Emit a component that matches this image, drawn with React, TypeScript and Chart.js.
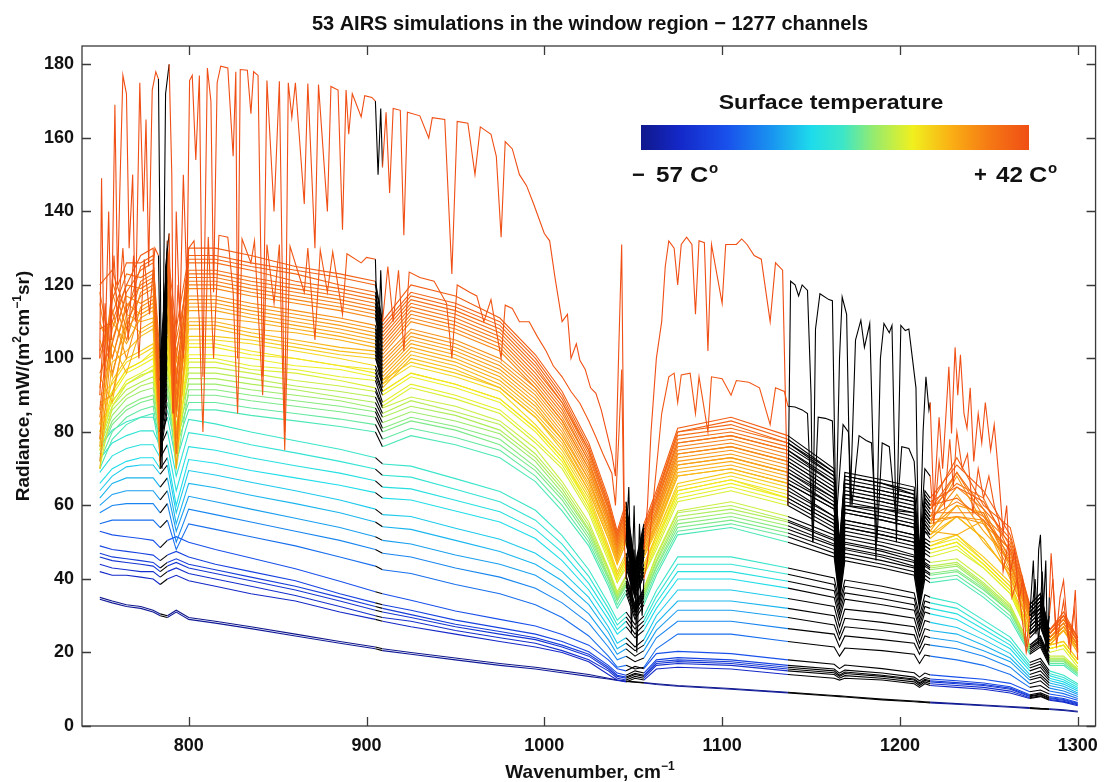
import React, { useEffect, useRef } from "react";
import { Chart, registerables } from "chart.js";

Chart.register(...registerables);

const TITLE = "53 AIRS simulations in the window region \u2212 1277 channels";
const xTicks = [800, 900, 1000, 1100, 1200, 1300];
const yTicks = [0, 20, 40, 60, 80, 100, 120, 140, 160, 180];
const blackRanges = [[783, 789], [905, 909], [1046, 1056], [1137, 1217], [1273, 1284]];

// shared wavenumber grid for the 51 smoother spectra
const wavenumbers = [750, 757, 765, 773, 780, 784, 788, 793, 800, 815, 835, 860, 885, 905, 909, 925, 950, 975, 995, 1010, 1025, 1036, 1041, 1046, 1051, 1056, 1063, 1075, 1105, 1137, 1163, 1166, 1169, 1190, 1208, 1211, 1214, 1217, 1232, 1247, 1262, 1273, 1279, 1284, 1292, 1300];

// surface temperature (deg C) of each of the 53 profiles, coldest first
const surfaceTemps = [-57, -55, -47, -45, -43, -41, -39, -35, -30, -26, -22, -19, -16, -13, -11, -8, -6, -4, -2, 0, 1, 3, 5, 6, 8, 10, 11, 12, 13, 14, 16, 18, 20, 21, 22, 23, 24, 25, 26, 27, 28, 29, 30, 31, 32, 33, 34, 35, 36, 37, 38, 40, 42];

const coldProfiles = [
  [35,34,33,32.5,31.5,30.5,30,31.5,29.5,28.5,27,25,23,21.5,21,20,18.5,17,16,15,14,13,12.5,12.2,12,11.8,11.5,11,10.2,9.2,8.3,8.2,8.1,7.3,6.8,6.7,6.6,6.5,6.1,5.7,5.3,5,4.8,4.7,4.4,4],
  [34.5,33.5,32.5,32,31,30,29.5,31,29,28,26.5,24.5,22.5,21,20.5,19.5,18,16.5,15.5,14.5,13.5,12.8,12.4,12.1,11.9,11.7,11.3,10.8,10,9,8.1,8,7.9,7.1,6.6,6.5,6.4,6.3,5.9,5.5,5.1,4.8,4.6,4.5,4.2,3.8],
];

const blueProfiles = [
  [42,41,41,40.5,40,38.5,40,41,39.5,38,36,34,31,29,28.5,27,25,23,21.5,20,17.5,14,12.5,12,13,12.5,15.5,16,15.5,14,13,12.5,13,12.5,11.5,10.5,11.5,11,10.5,10,9,7.5,8,7,6.5,5.5],
  [44,43,42.5,42,42,40.5,42,43,41.5,40,38,35.5,32.5,30,29.5,28.5,26,24,22.5,20.5,18,15,13,12.5,13.5,13,16.5,17,16.5,15,14,13,13.7,13,12,11,12,11.5,11,10.5,9.5,7.7,8.2,7.2,6.7,5.8],
  [46,45,44.5,44,43.5,42,43.5,44.5,43,41.5,39.5,37,34,31.5,31,29.5,27,25,23.5,21.5,19,15.5,13.5,13,14,13.5,17,17.5,17,15.5,14.5,13.5,14.3,13.5,12.5,11.5,12.4,12,11.5,11,10,8,8.5,7.5,7,6],
  [47,46,45.5,45,44.5,43,44.5,45.5,44,42.5,40.5,38,35,32.5,32,30.3,27.7,25.7,24,22,19.5,16,13.8,13.3,14.3,13.8,17.5,18,17.5,16,15,13.8,14.7,13.8,12.8,11.8,12.7,12.3,11.8,11.3,10.3,8.2,8.7,7.7,7.2,6.2],
  [49,48,47.5,47,46.5,45,46.5,47.5,46,44,42,39.5,36,33.5,33,31.5,28.8,26.7,25,23,20.2,16.5,14.4,13.8,15,14.4,18,18.6,18,16.5,15.5,14.4,15.2,14.4,13.3,12.3,13.2,12.8,12.3,11.7,10.7,8.5,9,8,7.5,6.4],
  [53,52,51.5,51,50.5,48.5,50.5,51.5,50,48,45.7,42.8,39.4,36.5,36,34.2,31.3,29,27.2,24.9,22,18,15.6,15,16.2,15.6,19.7,20.3,19.7,18,16.8,15.6,16.6,15.6,14.5,13.3,14.4,13.9,13.3,12.7,11.6,9.3,9.8,8.7,8.1,7],
];

const cyanProfiles = [
  [55,56,56,56,56,54,56,48,55,53.5,51.5,49,46,43.5,42.5,41.5,38.5,36,33,29.5,24.5,19,16,16.5,15.5,16,21,25,25,23,21.5,19,21.2,20.5,19.5,17,19.3,19,18,16.5,14,10.5,11,9.5,8.8,7.5],
  [58,60,60.5,60.5,60.5,58,60.5,50,59,57.5,55.5,53,50.5,48,47,46,43,40.5,37.5,33.5,28,21.5,18,19,17.5,18.5,24,28.5,28.5,26.5,25,21.5,24.5,23.5,22.5,19.5,22.3,22,21,19,16,11.5,12.3,10.3,9.5,8],
  [60,63,64,64,64,61.5,64,53,62.5,61,59,56.5,54,51.5,50.5,49.5,46.5,44,41,36.5,30.5,23.5,19.5,21,19,20.5,26,31.5,31.5,29.5,27.5,23.5,27,26,24.8,21,24.5,24,23,20.5,17.5,12.5,13.3,11,10.2,8.6],
  [62,66,67.5,67.5,67.5,65,67.5,55,66,64.8,62.8,60.5,58,55.5,54.2,53.5,50.5,47.5,44,39.5,33,25.5,21,22.5,20.5,22,28,34,34,32,30,25,29.3,28.2,27,22.5,26.5,26,25,22,18.5,13.2,14,11.7,10.8,9],
  [64,68,70.5,71,71,68.5,71,58,69.5,68.3,66.3,64,61.5,59,57.5,57,53.8,50.8,47,42,35,27,22.5,24,21.5,23.5,30,37,37,34.7,32.5,27,31.8,30.7,29.3,24.3,28.7,28.2,26.8,23.5,19.7,14,15,12.4,11.4,9.5],
  [66,70,72,73,73,70,73,60,72.5,71.5,69.5,67.5,65.5,63.5,62,61.5,58.5,55.5,51,45,37,29,25,27,24,26,32,40,40,37.5,35,29,34.5,33,31.5,26,31,30.5,29,25,21,15,16,13,12,10],
  [69,73.5,75.5,76.5,76.5,73,76.5,64,76,75,73,70.8,68.8,66.7,65,64.5,61.4,58.3,53.5,47.3,38.8,30.5,26.2,28.5,25,27.5,33.6,42,42,39.4,36.8,30.5,36.2,34.6,33,27.3,32.5,32,30.5,26.3,22,15.8,16.8,13.7,12.6,10.5],
  [72.6,77,79,80.3,80.3,76,80.3,68,79.8,78.7,76.5,74.3,72,69.9,68.2,67.7,64.4,61,56,49.5,40.7,32,27.5,29.7,26.4,28.6,35.2,44,44,41.3,38.5,32,38,36.3,34.7,28.6,34,33.5,32,27.5,23,16.5,17.6,14.3,13.2,11],
  [76,80.5,82.8,84,84,79,84,72,83.4,82.2,80,77.6,75.3,73,71.3,70.7,67.3,63.8,58.7,51.8,42.5,33.4,28.8,31,27.6,29.9,36.8,46,46,43,40.3,33.4,39.7,38,36.2,30,35.7,35,33.4,28.8,24.2,17.3,18.4,15,13.8,11.5],
];

const greenProfiles = [
  [70,78,82,84,85,74,86,76,86,86,84.5,83,81.5,80,76,79,76.5,73,66.5,58.5,49,38,32,36,29,33,41,52,54,50,46,34,45,43,41,32,40,39,40,35,29,19.5,21.5,16.5,16.5,13.5],
  [72,80,84,86,87,76,88,78,88,88,86.5,85,83.5,82,78,81,78.5,75,68,60,50,39,33,37,30,34,42,53,55,51.5,47,35,46,44,42,33,41,40,41,36,30,20,22,17,17,14],
  [74,82,86,88,89,78,90,80,90,90,88.5,87,85.5,84,80,83,80.5,76.5,69.5,61.5,51,40,34,38,31,35,43,54,56,52.5,48,36,47,45,43,34,42,41,42,37,31,20.5,22.5,17.5,17.5,14.3],
  [75,83,87,89,90,79,91.5,70,91.5,91.5,90,88.5,87,85.5,81,84,81.5,78,70.5,62.5,52,40.5,34.5,38.5,31,35.5,43.5,55,57,53.5,49,36.5,48,46,43.5,34.5,42.5,41.5,42.5,37.5,31,21,23,17.7,17.7,14.6],
  [76,84.5,89,91,92,80,93,82,93,93,91.5,90,88.5,86.5,82.5,85.5,83,79.5,72,63.5,53,41,35,39,31.5,36,44.5,56,58,54.5,49.5,37,48.5,46.5,44.5,35,43.5,42.5,43.5,38,31.5,21,23.5,18,18,15],
  [77,86,90,92.5,93.5,81,94.5,74,94.5,94.5,93,91.5,89.5,88,84,87,84.5,80.5,73,64.5,53.5,42,35.5,39.5,32,36.5,45,57,59,55.5,50.5,37.5,49.5,47.5,45,35.5,44,43,44,38.5,32,21.5,23.5,18.3,18.3,15],
  [78.5,87,91.5,93.5,95,83,96,85,96,96,94.5,92.5,91,89.5,85,88.5,85.5,82,74,65.5,54.5,42.5,36,40.5,32.5,37,46,58,60,56,51,38,50,48,46,36,44.5,43.5,44.5,39,32.5,22,24,18.5,18.5,15.3],
  [80,88.5,93,95.5,96.5,84,97.5,77,97.5,97.5,96,94,92.5,91,86.5,89.5,87,83,75.5,66.5,55.5,43,36.5,41,33,37.5,46.5,58.5,61,57,52,39,51,49,46.5,36.5,45.5,44.5,45.5,40,33,22,24.5,19,19,15.5],
];

const yellowProfiles = [
  [70,87,93,95,97,78,99,82,99,99,97,96,94,92,87,92,89,85,77,70,58,45,39,43,35,41,48,61,64,60,53,39,52,50,48,37,47,46,48,43,36,24,27,20,21,16],
  [82,88,94,96,98,80,101,75,100,100,98,97,95,94,88,93,90,86,78,71,59,46,39,44,35,41,49,62,65,61,54,39,53,51,49,37,48,47,49,43,36,25,27,21,22,17],
  [75,90,96,98,100,77,102,88,101,101,100,98,97,95,90,95,92,88,80,72,60,47,40,45,36,42,50,63,66,62,55,40,54,52,50,38,49,48,50,44,37,25,28,21,22,17],
  [86,91,97,99,101,82,104,70,103,103,101,100,98,96,91,96,93,89,81,73,60,47,40,45,36,42,50,64,67,62,55,40,54,52,50,38,49,48,50,44,37,25,28,21,22,17],
  [78,91,97,99,102,79,105,85,104,104,102,100,98,97,91,96,93,89,81,73,61,48,41,46,37,43,51,64,67,63,56,41,55,53,51,39,50,49,51,45,38,25,28,21,22,17],
  [90,93,99,101,103,84,106,78,105,105,104,102,100,98,93,98,95,91,82,74,62,48,41,46,37,43,52,65,68,64,57,41,56,54,52,39,50,49,52,45,38,26,29,22,23,18],
  [80,94,100,102,104,81,108,90,106,106,105,103,101,100,94,99,96,92,84,75,63,49,42,47,38,44,52,66,69,65,57,42,56,54,52,40,51,50,52,46,39,26,29,22,23,18],
];

const warmProfiles = [
  [70,99,102,106,108,81,110,80,108,108,106,104,102,101,92,100,97,92,84,76,64,51,44,50,37,46,53,68,70,66,59,41,58,56,54,38,53,51,57,51,41,27,30,22,26,20],
  [95,88,110,107,109,72,111,92,109,109,107,105,103,102,93,101,98,93,85,77,64,51,44,50,37,46,54,68,70,66,59,41,58,56,54,38,53,52,57,51,41,27,30,22,26,20],
  [82,104,96,108,110,88,112,75,110,110,108,107,105,103,94,102,99,94,86,78,65,52,45,51,37,47,54,69,71,67,60,42,59,57,55,39,54,52,60,50,42,28,31,22,26,21],
  [105,95,112,110,111,76,113,99,111,111,110,108,106,104,95,103,100,95,87,78,66,53,45,52,37,47,55,70,72,68,60,42,59,57,55,40,55,53,52,56,40,28,31,23,26,21],
  [76,110,104,111,113,92,115,85,113,113,111,109,107,105,96,104,101,96,88,79,67,53,46,53,38,48,55,71,73,69,61,43,60,58,56,40,55,53,63,53,45,29,32,23,27,21],
  [110,100,115,112,114,70,116,70,114,114,112,110,108,106,97,105,102,97,89,80,67,54,46,53,38,48,56,71,73,69,62,43,60,59,57,40,56,54,60,58,43,29,32,23,27,21],
  [88,90,108,113,115,85,117,95,115,115,113,111,109,107,98,106,103,98,90,81,68,55,47,54,39,49,57,72,74,70,62,44,61,59,58,41,57,55,57,55,44,29,32,23,27,21],
  [100,113,100,114,116,95,118,88,116,116,114,112,110,108,99,107,104,99,91,82,69,55,47,54,39,49,57,73,75,71,63,44,62,60,58,41,57,55,68,55,48,30,32,24,27,22],
  [72,105,117,115,117,78,119,102,117,117,115,113,111,109,100,108,105,100,92,83,70,56,48,55,40,50,58,74,76,72,64,45,63,61,59,42,58,56,57,56,42,30,33,24,28,22],
  [115,96,110,117,119,90,121,78,119,119,117,115,113,111,101,110,107,102,92,83,70,56,48,55,40,50,58,74,76,72,64,45,63,61,59,42,58,56,65,59,45,30,33,24,28,22],
  [92,118,105,118,120,74,122,96,120,120,118,116,114,112,102,111,108,103,93,84,71,57,49,56,41,51,59,75,77,73,65,46,64,62,60,43,59,57,61,57,46,30,33,24,28,22],
  [84,108,120,119,121,98,123,84,121,121,119,117,115,113,103,112,109,104,94,85,72,57,49,56,41,51,59,76,78,74,66,46,65,63,61,43,59,57,69,57,50,31,34,25,29,23],
  [118,100,114,120,122,82,124,105,122,122,120,118,116,114,104,113,110,105,95,86,72,58,50,57,41,52,60,77,79,75,66,47,65,63,61,43,60,58,58,58,44,31,34,25,29,23],
  [78,121,108,121,123,88,125,90,123,123,121,119,117,115,105,114,111,106,96,87,73,59,50,57,42,52,61,77,79,75,67,47,66,64,62,44,61,59,66,62,47,31,34,25,29,23],
  [102,112,123,122,124,72,127,74,124,124,122,120,118,116,106,115,112,107,97,88,74,59,51,58,42,53,61,78,80,76,68,47,66,64,62,44,61,59,69,59,51,32,35,25,30,23],
  [96,104,118,124,126,100,128,100,126,126,124,121,119,117,107,116,113,108,98,88,75,60,51,59,43,53,62,79,81,77,68,48,67,65,63,45,62,60,62,56,48,32,35,26,30,23],
  [120,124,112,125,127,86,129,86,127,127,125,123,120,118,108,117,114,109,99,89,75,60,52,59,43,54,62,80,82,77,69,48,68,66,63,45,62,60,73,60,54,32,35,26,30,24],
  [86,116,126,126,128,94,130,108,128,128,126,124,122,120,109,118,115,110,100,90,76,61,52,60,43,54,63,80,83,78,69,49,68,66,64,46,63,61,65,61,49,33,36,26,30,24],
  [108,110,120,128,130,80,132,93,130,130,128,125,123,121,110,120,117,111,101,91,77,62,53,61,44,55,64,81,84,79,70,50,69,67,65,46,64,62,71,64,52,33,36,26,31,24],
];

// second-warmest profile: [wavenumber, radiance]
const secondProfile = [
  [750,90],[753,115],[755,100],[758,128],[760,110],[763,130],[766,105],[769,128],[772,100],[775,127],[778,112],[781,130],[783,128],[785,70],[787,125],[789,134],[791,85],[794,120],[797,100],[800,130],[803,132],[806,110],[808,80],[811,133],[814,100],[817,133.5],[822,133],[825,118],[827.5,85],[830,132.5],[835,126],[837,132],[841.6,90],[844,131],[848,115],[851,131],[854,75],[857,130.5],[865,118],[867,130],[871,105],[874,129.5],[878,118],[881,129],[886.5,112],[889,128.5],[897,126],[900,127.5],[905,127],[906.5,100],[908,124],[909,110],[912,125],[915,110],[918,124],[921,102],[924,123.5],[930,122],[938,121],[945,115],[948,100],[951,120],[958,118],[962,117],[966,110],[970,116],[975.7,100],[978,114.5],[982,113.6],[986,110],[991.5,110],[996,106],[1001,102],[1005,98],[1010,95],[1015,91],[1020,87.8],[1025,83],[1029,78.6],[1033,74],[1038,68.7],[1040,60],[1042,80],[1043.5,97],[1045,50],[1046,40],[1047.5,55],[1049,25],[1050.5,48],[1052,20],[1053.5,42],[1055,30],[1056,40],[1058,45],[1060,55],[1063,70],[1066,85],[1070,95],[1073,96],[1075,88],[1077,95.5],[1082,96],[1085,85],[1087,95],[1092,80],[1094,95],[1100,94.5],[1105,90],[1108,94],[1115,93.5],[1121,92],[1127,82],[1130,92],[1135,91],[1137,87],[1141,86.8],[1145,86],[1148,85],[1151,50],[1154,84],[1158,83.7],[1162,83],[1164,55],[1168,82],[1171,80],[1173,60],[1177,79],[1181,77.7],[1184,77],[1187,50],[1190,77],[1194,76],[1198,55],[1201,76],[1205,75.5],[1208,72],[1211,48],[1214,70],[1217,68],[1219,55],[1222,72],[1225,60],[1228,78],[1230,65],[1232,80],[1235,70],[1238,74],[1241,58],[1244,70],[1247,62],[1250,68],[1253,60],[1256,55],[1258,42],[1261,50],[1263,35],[1266,40],[1269,28],[1271,20],[1273,25],[1276,40],[1278,22],[1280,42],[1282,20],[1284,30],[1286,40],[1288,22],[1292,34],[1295,22],[1298,32],[1300,18],
];

// warmest profile (+42 C): [wavenumber, radiance]
const topProfile = [
  [750,100],[751,149],[752.5,95],[755,140],[756.5,105],[758.5,169],[760,120],[761.5,150],[763,177],[765,172],[766.5,130],[768.5,150],[770,110],[772.5,175],[774.5,140],[776,165],[777.5,125],[779.5,173],[781.5,178],[783,176],[785,75],[787,172],[789,180],[790.5,150],[791.5,85],[793,140],[795,110],[797,150],[799,120],[800.5,175.6],[802,177],[804,154],[806,177],[808,95],[810.5,179],[812.5,170],[814,118],[816,175],[818,179.5],[822,179],[825,155],[826.5,178],[827.5,100],[829,178.6],[833,178.4],[835,166.6],[836.5,178],[839,177],[841.6,95],[844,175.6],[848,140],[851,175.4],[854,80],[856,175],[858,165.6],[860,175],[865,142],[867,174.8],[871,130],[873,174.5],[878,140],[880,174],[884,173],[886.5,135],[888.5,173],[890,161],[892,172],[897,165.7],[899,171.5],[903,171],[905,170],[906.5,150],[908,168],[909,152],[911,167],[913,145],[915,168],[919,167.5],[921,133.5],[923,167],[930,166],[935,160],[937,165.5],[944,165],[948,123],[951,164.5],[957,164],[961,150],[964,163],[970,161],[973,155],[975.7,133],[978,159],[982,157],[986,150],[990,147],[994,142],[997,138],[1000,134],[1003,132],[1006,122],[1010,110],[1013,112],[1015,100],[1018,104],[1020,99.5],[1023,97],[1026,92],[1029,90.5],[1032,86],[1035,80],[1038,74],[1040,68],[1042,105],[1043.5,131],[1045,55],[1046,50],[1047.5,65],[1049,35],[1050.5,60],[1052,28],[1053.5,55],[1055,40],[1056,48],[1058,60],[1060,80],[1063,100],[1066,110],[1068,125],[1070,132],[1073,130],[1075,120],[1077,131],[1080,133],[1083,131],[1085,112],[1087,132],[1090,131.5],[1092,102],[1094,131],[1100,115],[1102,131],[1108,131],[1111,132.5],[1114,131],[1118,128],[1122,127],[1127,110],[1130,126],[1134,124],[1136,80],[1137,60],[1138.5,121],[1141,120],[1143,117],[1145,120],[1148,118.5],[1150,90],[1151,50],[1152.5,108],[1155,117.6],[1160,116],[1162,115.7],[1164,55],[1166,100],[1167.5,116.7],[1170,112],[1172,60],[1175,105],[1178,110.4],[1180,103],[1183,109.5],[1186.5,45],[1189,100],[1191,109.5],[1194,107],[1195.5,109],[1198,50],[1200.5,109],[1203,107.6],[1205,108],[1207,100],[1209,92],[1210.7,40],[1213,80],[1214.6,95],[1216.3,86],[1217,88],[1219,60],[1222,84],[1224,70],[1227.5,97.7],[1229,79.6],[1231,103],[1232.5,90],[1234,101],[1236,85],[1237.7,81],[1239.5,92],[1241.5,72],[1244,85],[1246,77],[1248,88],[1251,75],[1253,82],[1255.6,67.7],[1258,52.4],[1260,60],[1262,41.5],[1264.5,48],[1267,34],[1269,40],[1271,21.5],[1273,30],[1275,45],[1276.5,25],[1278,48],[1279,52],[1280.5,30],[1282,45],[1283,20],[1284,35],[1285,47],[1288,25],[1290,35],[1292,39.6],[1294,28],[1296,20.6],[1298.6,37],[1300,20],
];

const FONT = '"Liberation Sans", Arial, Helvetica, sans-serif';
const T_MIN = -57;
const T_MAX = 42;

const colorStops: [number, number[]][] = [
  [0.0, [16, 24, 140]],
  [0.1, [20, 40, 200]],
  [0.22, [25, 80, 235]],
  [0.34, [25, 150, 240]],
  [0.44, [30, 220, 235]],
  [0.52, [60, 230, 200]],
  [0.6, [150, 235, 110]],
  [0.7, [240, 240, 30]],
  [0.8, [250, 175, 20]],
  [0.9, [245, 120, 20]],
  [1.0, [240, 78, 20]],
];

function mapColor(t: number): string {
  const tt = Math.max(0, Math.min(1, t));
  for (let i = 1; i < colorStops.length; i++) {
    const [t1, c1] = colorStops[i];
    const [t0, c0] = colorStops[i - 1];
    if (tt <= t1) {
      const f = (tt - t0) / (t1 - t0);
      const c = c0.map((v, k) => Math.round(v + (c1[k] - v) * f));
      return `rgb(${c[0]},${c[1]},${c[2]})`;
    }
  }
  const c = colorStops[colorStops.length - 1][1];
  return `rgb(${c[0]},${c[1]},${c[2]})`;
}

const tempColor = (temp: number) => mapColor((temp - T_MIN) / (T_MAX - T_MIN));
const inBlack = (a: number, b: number) => blackRanges.some(([lo, hi]) => a >= lo && b <= hi);

function makeDataset(points: { x: number; y: number }[], temp: number) {
  const color = tempColor(temp);
  return {
    data: points,
    borderColor: color,
    borderWidth: 1.1,
    pointRadius: 0,
    tension: 0,
    fill: false,
    segment: {
      borderColor: (ctx: any) => (inBlack(ctx.p0.parsed.x, ctx.p1.parsed.x) ? "#000" : color),
    },
  };
}

type Part = [string, boolean?];

function drawRich(ctx: CanvasRenderingContext2D, parts: Part[], x: number, y: number, size: number) {
  const normal = `bold ${size}px ${FONT}`;
  const sup = `bold ${Math.round(size * 0.65)}px ${FONT}`;
  let total = 0;
  const widths = parts.map(([t, s]) => {
    ctx.font = s ? sup : normal;
    const w = ctx.measureText(t).width;
    total += w;
    return w;
  });
  let cx = x - total / 2;
  ctx.textAlign = "left";
  ctx.textBaseline = "alphabetic";
  parts.forEach(([t, s], i) => {
    ctx.font = s ? sup : normal;
    ctx.fillText(t, cx, s ? y - size * 0.42 : y);
    cx += widths[i];
  });
}

const decorPlugin = {
  id: "decor",
  afterDraw(chart: any) {
    const { ctx, chartArea: a, scales } = chart;
    ctx.save();
    ctx.strokeStyle = "#3a3a3a";
    ctx.lineWidth = 1.3;
    ctx.strokeRect(a.left, a.top, a.right - a.left, a.bottom - a.top);
    ctx.beginPath();
    const tl = 9;
    xTicks.forEach((v) => {
      const x = Math.round(scales.x.getPixelForValue(v)) + 0.5;
      ctx.moveTo(x, a.bottom);
      ctx.lineTo(x, a.bottom - tl);
      ctx.moveTo(x, a.top);
      ctx.lineTo(x, a.top + tl);
    });
    yTicks.forEach((v) => {
      const y = Math.round(scales.y.getPixelForValue(v)) + 0.5;
      ctx.moveTo(a.left, y);
      ctx.lineTo(a.left + tl, y);
      ctx.moveTo(a.right, y);
      ctx.lineTo(a.right - tl, y);
    });
    ctx.stroke();

    ctx.fillStyle = "#111";
    // title
    ctx.font = `bold 20px ${FONT}`;
    ctx.textAlign = "center";
    ctx.textBaseline = "alphabetic";
    ctx.fillText(TITLE, 590, 30);

    // x axis label
    drawRich(ctx, [["Wavenumber, cm"], ["\u22121", true]], 590, 778, 19);

    // y axis label
    ctx.save();
    ctx.translate(29, 386);
    ctx.rotate(-Math.PI / 2);
    drawRich(ctx, [["Radiance, mW/(m"], ["2", true], ["cm"], ["\u22121", true], ["sr)"]], 0, 0, 19);
    ctx.restore();

    // colour bar legend
    const bx0 = 641, bx1 = 1029, by0 = 125, by1 = 150;
    const grad = ctx.createLinearGradient(bx0, 0, bx1, 0);
    colorStops.forEach(([t, c]) => grad.addColorStop(t, `rgb(${c[0]},${c[1]},${c[2]})`));
    ctx.fillStyle = grad;
    ctx.fillRect(bx0, by0, bx1 - bx0, by1 - by0);

    ctx.fillStyle = "#111";
    const scaledText = (t: string, x: number, y: number, size: number, align: CanvasTextAlign, sx: number) => {
      ctx.save();
      ctx.translate(x, y);
      ctx.scale(sx, 1);
      ctx.font = `bold ${size}px ${FONT}`;
      ctx.textAlign = align;
      ctx.textBaseline = "alphabetic";
      ctx.fillText(t, 0, 0);
      ctx.restore();
    };
    scaledText("Surface temperature", 831, 109, 21, "center", 1.1);
    scaledText("\u2212", 632, 182, 22, "left", 1.0);
    scaledText("57", 656, 182, 22, "left", 1.1);
    scaledText("C", 690, 182, 22, "left", 1.15);
    scaledText("o", 709, 173, 15, "left", 1.0);
    scaledText("+", 974, 182, 22, "left", 1.0);
    scaledText("42", 996, 182, 22, "left", 1.1);
    scaledText("C", 1029, 182, 22, "left", 1.15);
    scaledText("o", 1048, 173, 15, "left", 1.0);
    ctx.restore();
  },
};

export default function App() {
  const canvasRef = useRef<HTMLCanvasElement | null>(null);

  useEffect(() => {
    if (!canvasRef.current) return;
    const coarseRows = [...coldProfiles, ...blueProfiles, ...cyanProfiles, ...greenProfiles, ...yellowProfiles, ...warmProfiles];
    const datasets: any[] = coarseRows.map((row, i) =>
      makeDataset(wavenumbers.map((x, j) => ({ x, y: row[j] })), surfaceTemps[i])
    );
    datasets.push(makeDataset(secondProfile.map(([x, y]) => ({ x, y })), surfaceTemps[51]));
    datasets.push(makeDataset(topProfile.map(([x, y]) => ({ x, y })), surfaceTemps[52]));
    // lower index is drawn on top in Chart.js: put the warmest first
    datasets.reverse();

    const tickFont = { family: FONT, size: 18, weight: "bold" as const };
    const chart = new Chart(canvasRef.current, {
      type: "line",
      data: { datasets },
      options: {
        animation: false,
        responsive: true,
        maintainAspectRatio: false,
        events: [],
        layout: { padding: { top: 46, right: 11, left: 0, bottom: 0 } },
        plugins: { legend: { display: false }, tooltip: { enabled: false }, title: { display: false } },
        scales: {
          x: {
            type: "linear",
            min: 740,
            max: 1310,
            grid: { display: false, drawTicks: false },
            border: { display: false },
            afterBuildTicks: (s: any) => {
              s.ticks = xTicks.map((v) => ({ value: v }));
            },
            afterFit: (s: any) => {
              s.height = 56;
            },
            ticks: {
              font: tickFont,
              color: "#111",
              padding: 9,
              maxRotation: 0,
              autoSkip: false,
              callback: (v: any) => String(v),
            },
          },
          y: {
            type: "linear",
            min: 0,
            max: 185,
            grid: { display: false, drawTicks: false },
            border: { display: false },
            afterBuildTicks: (s: any) => {
              s.ticks = yTicks.map((v) => ({ value: v }));
            },
            afterFit: (s: any) => {
              s.width = 82;
            },
            ticks: { font: tickFont, color: "#111", padding: 8, autoSkip: false, callback: (v: any) => String(v) },
          },
        },
      },
      plugins: [decorPlugin],
    });
    return () => chart.destroy();
  }, []);

  return (
    <div style={{ position: "absolute", left: 0, top: 0, width: 1107, height: 782, background: "#fff" }}>
      <canvas ref={canvasRef} />
    </div>
  );
}
